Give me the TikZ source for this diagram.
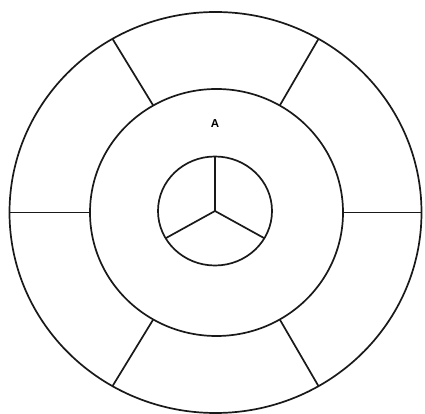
\documentclass[tikz,border=0pt]{standalone}
\usepackage{fontspec}
\setmainfont{Liberation Sans}
\begin{document}
\begin{tikzpicture}[x=1pt,y=1pt,
  ring/.style={draw=black!90,line width=1.7pt},
  spoke/.style={draw=black!90,line width=1.7pt},
  lbl/.style={font=\fontsize{11.5}{12}\selectfont\bfseries,inner sep=0pt}]
\useasboundingbox (0,0) rectangle (425,414);
\coordinate (co) at (215.5,201.5);
\coordinate (cm) at (216.5,201.5);
\coordinate (ci) at (215,203);
% rings
\draw[ring] (co) ellipse [x radius=206, y radius=200.5];
\draw[ring] (cm) ellipse [x radius=126.5, y radius=123.5];
\draw[ring] (ci) ellipse [x radius=57, y radius=54.5];
% outer spokes
\foreach \a in {0,60,120,180,240,300}{
  \draw[spoke] ([shift={(\a:126.5pt and 123.5pt)}]cm) -- ([shift={(\a:206pt and 200.5pt)}]co);
}
% inner spokes
\foreach \a in {90,210,330}{
  \draw[spoke] (ci) -- ([shift={(\a:57pt and 54.5pt)}]ci);
}
\node[lbl] (A) at (215,290) {A};
\end{tikzpicture}
\end{document}
